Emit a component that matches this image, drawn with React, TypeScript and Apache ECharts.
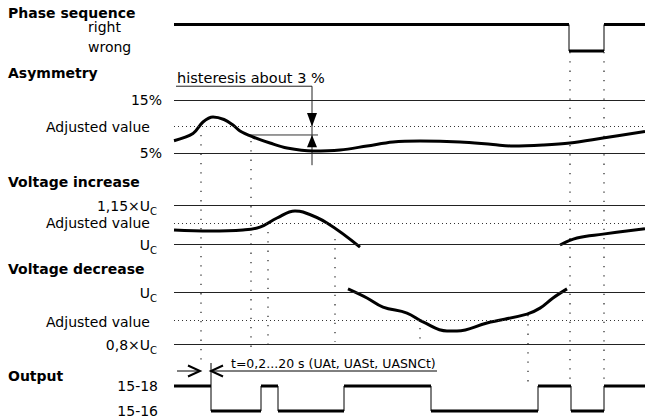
import React, { useEffect, useRef } from 'react';
import * as echarts from 'echarts';

// ---------- time axis (arbitrary time units) ----------
const T_MAX = 471;

// ---------- Phase sequence (1 = right, 0 = wrong) ----------
const phaseTimes = [0, 395, 430, 471];
const phaseLevels = [1, 0, 1, 1];
const phaseTicks = [0, 1];
const phaseTickLabels = ['wrong', 'right'];

// ---------- Asymmetry (%) ----------
const asymTimes = [0, 19, 29, 39, 50, 59, 66, 79, 96, 113, 139, 166, 193, 219, 246, 286, 319, 339, 369, 396, 429, 471];
const asymValues = [7.32, 8.68, 10.85, 11.79, 11.32, 10.28, 9.15, 8.02, 6.89, 5.94, 5.38, 5.57, 6.32, 7.08, 7.26, 7.08, 6.6, 6.32, 6.51, 6.89, 7.83, 9.06];
const asymTicks = [5, 10, 15];
const asymTickLabels = ['5%', 'Adjusted value', '15%'];
const asymAdjusted = 10;
const asymHysteresisLevel = 8.4;
const hystText = 'histeresis about 3 %';

// ---------- Voltage increase (× Uc) ----------
const vIncTimesA = [0, 36, 69, 86, 103, 121, 129, 153, 186];
const vIncValuesA = [1.054, 1.05, 1.054, 1.065, 1.1, 1.127, 1.123, 1.081, 0.988];
const vIncTimesB = [386, 403, 429, 471];
const vIncValuesB = [0.996, 1.023, 1.038, 1.059];
const vIncTicks = [1.0, 1.081, 1.15];
const vIncTickLabels = ['U_C', 'Adjusted value', '1,15×U_C'];

// ---------- Voltage decrease (× Uc) ----------
const vDecTimes = [174, 193, 209, 233, 249, 273, 283, 313, 353, 366, 379, 393];
const vDecValues = [1.012, 0.977, 0.942, 0.919, 0.885, 0.85, 0.85, 0.881, 0.915, 0.938, 0.977, 1.012];
const vDecTicks = [0.8, 0.885, 1.0];
const vDecTickLabels = ['0,8×U_C', 'Adjusted value', 'U_C'];

// ---------- Output (1 = 15-18, 0 = 15-16) ----------
const outTimes = [0, 37, 87, 104, 170, 257, 364, 397, 430, 471];
const outLevels = [1, 0, 1, 0, 1, 0, 1, 0, 1, 1];
const outTicks = [0, 1];
const outTickLabels = ['15-16', '15-18'];
const delayText = 't=0,2...20 s (UAt, UASt, UASNCt)';

// ---------- vertical dotted guides (overlay rows) ----------
const guideTimes = [27, 77, 94, 161, 246, 354, 396, 430];
const guideTop = [135, 141, 232, 239, 328, 315, 52, 52];
const guideBottom = [362, 348, 345, 342, 342, 382, 383, 383];

// ---------- panel titles ----------
const panelTitles = ['Phase sequence', 'Asymmetry', 'Voltage increase', 'Voltage decrease', 'Output'];
const panelTitleY = [12.5, 73, 182, 269, 376];

const FONT = 'DejaVu Sans';
const LEFT = 174;
const FS = 14;

const rich = {
  u: { fontSize: FS, fontFamily: FONT, color: '#000', verticalAlign: 'bottom', lineHeight: 16 },
  s: { fontSize: 10, fontFamily: FONT, color: '#000', verticalAlign: 'bottom', lineHeight: 16, padding: [0, 0, -3, 0] },
  adj12: { fontSize: FS, fontFamily: FONT, color: '#000', padding: [0, 12, 0, 0] },
  adj7: { fontSize: FS, fontFamily: FONT, color: '#000', padding: [0, 7, 0, 0] },
  n: { fontSize: FS, fontFamily: FONT, color: '#000' },
  right: { fontSize: FS, fontFamily: FONT, color: '#000', lineHeight: 12, padding: [5, 0, 0, 0] },
  wrong: { fontSize: FS, fontFamily: FONT, color: '#000', lineHeight: 12, padding: [0, 0, 8, 0] },
};

function fmtLabel(s: string, adjKey: string) {
  if (s === 'Adjusted value') return `{${adjKey}|${s}}`;
  if (s === 'right' || s === 'wrong') return `{${s}|${s}}`;
  if (s.includes('_')) {
    const [a, b] = s.split('_');
    return `{u|${a}}{s|${b}}`;
  }
  return `{n|${s}}`;
}

function makeY(gridIndex: number, min: number, max: number, ticks: number[], labels: string[], margin: number, align: string, adjKey: string) {
  return {
    type: 'value',
    gridIndex,
    min,
    max,
    axisLine: { show: false },
    axisTick: { show: false },
    splitLine: { show: false },
    axisLabel: {
      show: true,
      customValues: ticks,
      margin,
      align,
      hideOverlap: false,
      showMinLabel: true,
      showMaxLabel: true,
      fontFamily: FONT,
      fontSize: FS,
      color: '#000',
      rich,
      formatter: (v: number) => {
        const i = ticks.findIndex((t) => Math.abs(t - v) < 1e-6);
        return i < 0 ? '' : fmtLabel(labels[i], adjKey);
      },
    },
  };
}

function makeX(gridIndex: number) {
  return { type: 'value', gridIndex, min: 0, max: T_MAX, show: false };
}

const zip = (a: number[], b: number[]) => a.map((x, i) => [x, b[i]]);
const segs = (t: number[], l: number[]) => t.slice(0, -1).map((x, i) => [x, t[i + 1], l[i]]);

const refLine = { color: '#222', width: 1, type: 'solid' };
const dotLine = { color: '#333', width: 1, type: [1, 3] };

function markLines(solid: number[], dotted: number[]) {
  return {
    silent: true,
    symbol: ['none', 'none'],
    label: { show: false },
    data: [
      ...solid.map((v) => ({ yAxis: v, lineStyle: refLine })),
      ...dotted.map((v) => ({ yAxis: v, lineStyle: dotLine })),
    ],
  };
}

const curve = (xi: number, data: number[][], ml?: any, smooth = 0.4) => ({
  type: 'line',
  xAxisIndex: xi,
  yAxisIndex: xi,
  data,
  smooth,
  symbol: 'none',
  clip: false,
  lineStyle: { color: '#000', width: 3 },
  ...(ml ? { markLine: ml } : {}),
});

const levelSeries = (xi: number, times: number[], levels: number[]) => [
  {
    type: 'line',
    xAxisIndex: xi,
    yAxisIndex: xi,
    step: 'end',
    data: zip(times, levels),
    symbol: 'none',
    clip: false,
    lineStyle: { color: '#000', width: 1 },
  },
  {
    type: 'custom',
    xAxisIndex: xi,
    yAxisIndex: xi,
    data: segs(times, levels),
    encode: { x: [0, 1], y: 2 },
    clip: false,
    renderItem: (_p: any, api: any) => {
      const a = api.coord([api.value(0), api.value(2)]);
      const b = api.coord([api.value(1), api.value(2)]);
      return {
        type: 'line',
        shape: { x1: a[0], y1: a[1], x2: b[0], y2: b[1] },
        style: { stroke: '#000', lineWidth: 3 },
      };
    },
  },
];

// hysteresis bracket, in asymmetry units
const hystX = 138;
const hystTop = 17.6;
const hystBottom = 2.7;
const hystLineFrom = 76;
const hystLineTo = 144;
const arrowHalf = 5;
const downArrowBase = 12.55;
const upArrowBase = 6.1;

// output delay arrow, in output units
const delayY = 1.6;
const delayFrom = 3;
const delayTip = 26;
const delayTip2 = 37;
const delayLineTo = 263;
const headLen = 12;
const headHalf = 0.22;
const delayTickTop = 1.92;
const delayTextX = 57;
const delayTextY = 1.92;

const option: any = {
  animation: false,
  backgroundColor: '#fff',
  textStyle: { fontFamily: FONT },
  grid: [
    { left: LEFT, right: 0, top: 24.5, height: 26.5 },
    { left: LEFT, right: 0, top: 100, height: 53 },
    { left: LEFT, right: 0, top: 205, height: 39 },
    { left: LEFT, right: 0, top: 292, height: 52 },
    { left: LEFT, right: 0, top: 386, height: 25 },
    { left: LEFT, right: 0, top: 0, height: 419 },
  ],
  xAxis: [0, 1, 2, 3, 4, 5].map(makeX),
  yAxis: [
    makeY(0, 0, 1, phaseTicks, phaseTickLabels, 86, 'left', 'adj12'),
    makeY(1, 5, 15, asymTicks, asymTickLabels, 12, 'right', 'adj12'),
    makeY(2, 1.0, 1.15, vIncTicks, vIncTickLabels, 17, 'right', 'adj7'),
    makeY(3, 0.8, 1.0, vDecTicks, vDecTickLabels, 17, 'right', 'adj7'),
    makeY(4, 0, 1, outTicks, outTickLabels, 16, 'right', 'adj7'),
    { type: 'value', gridIndex: 5, min: 0, max: 419, inverse: true, show: false },
  ],
  graphic: panelTitles.map((t, i) => ({
    type: 'text',
    x: 8,
    y: panelTitleY[i],
    style: { text: t, fill: '#000', font: `bold ${FS}px "${FONT}"`, lineHeight: 12, verticalAlign: 'middle', align: 'left' },
  })),
  series: [
    ...levelSeries(0, phaseTimes, phaseLevels),
    curve(1, zip(asymTimes, asymValues), markLines([5, 15], [asymAdjusted]), 0.35),
    {
      type: 'custom',
      xAxisIndex: 1,
      yAxisIndex: 1,
      data: [[hystX, asymHysteresisLevel]],
      clip: false,
      renderItem: (_p: any, api: any) => {
        const c = (x: number, y: number) => api.coord([x, y]);
        return {
          type: 'group',
          children: [
            {
              type: 'polyline',
              shape: { points: [c(2, hystTop), c(hystX, hystTop), c(hystX, hystBottom)] },
              style: { stroke: '#222', lineWidth: 1, fill: null },
            },
            {
              type: 'line',
              shape: (() => { const a = c(hystLineFrom, asymHysteresisLevel); const b = c(hystLineTo, asymHysteresisLevel); return { x1: a[0], y1: a[1], x2: b[0], y2: b[1] }; })(),
              style: { stroke: '#333', lineWidth: 1 },
            },
            {
              type: 'polygon',
              shape: { points: [c(hystX - arrowHalf, downArrowBase), c(hystX + arrowHalf, downArrowBase), c(hystX, asymAdjusted)] },
              style: { fill: '#000' },
            },
            {
              type: 'polygon',
              shape: { points: [c(hystX - arrowHalf, upArrowBase), c(hystX + arrowHalf, upArrowBase), c(hystX, asymHysteresisLevel)] },
              style: { fill: '#000' },
            },
            {
              type: 'text',
              x: c(3, 19.15)[0],
              y: c(3, 19.15)[1],
              style: { text: hystText, fill: '#000', font: `14.5px "${FONT}"`, verticalAlign: 'middle', align: 'left' },
            },
          ],
        };
      },
    },
    curve(2, zip(vIncTimesA, vIncValuesA), markLines([1.0, 1.15], [vIncTicks[1]])),
    curve(2, zip(vIncTimesB, vIncValuesB)),
    curve(3, zip(vDecTimes, vDecValues), markLines([0.8, 1.0], [vDecTicks[1]])),
    ...levelSeries(4, outTimes, outLevels),
    {
      type: 'custom',
      xAxisIndex: 4,
      yAxisIndex: 4,
      data: [[delayTip2, delayY]],
      clip: false,
      renderItem: (_p: any, api: any) => {
        const c = (x: number, y: number) => api.coord([x, y]);
        const ln = (a: number[], b: number[], w = 1) => ({
          type: 'line',
          shape: { x1: a[0], y1: a[1], x2: b[0], y2: b[1] },
          style: { stroke: '#000', lineWidth: w },
        });
        return {
          type: 'group',
          children: [
            ln(c(delayFrom, delayY), c(delayTip, delayY)),
            {
              type: 'polyline',
              shape: { points: [c(delayTip - headLen, delayY + headHalf), c(delayTip, delayY), c(delayTip - headLen, delayY - headHalf)] },
              style: { stroke: '#000', lineWidth: 2, fill: null },
            },
            ln(c(delayTip2, delayY), c(delayLineTo, delayY)),
            {
              type: 'polyline',
              shape: { points: [c(delayTip2 + headLen, delayY + headHalf), c(delayTip2, delayY), c(delayTip2 + headLen, delayY - headHalf)] },
              style: { stroke: '#000', lineWidth: 2, fill: null },
            },
            ln(c(delayTip2, 1), c(delayTip2, delayTickTop)),
            {
              type: 'text',
              x: c(delayTextX, delayTextY)[0],
              y: c(delayTextX, delayTextY)[1],
              style: { text: delayText, fill: '#000', font: `12.5px "${FONT}"`, verticalAlign: 'middle', align: 'left' },
            },
          ],
        };
      },
    },
    {
      type: 'custom',
      xAxisIndex: 5,
      yAxisIndex: 5,
      data: guideTimes.map((t, i) => [t, guideTop[i], guideBottom[i]]),
      encode: { x: 0, y: [1, 2] },
      clip: false,
      renderItem: (_p: any, api: any) => {
        const a = api.coord([api.value(0), api.value(1)]);
        const b = api.coord([api.value(0), api.value(2)]);
        return {
          type: 'line',
          shape: { x1: a[0], y1: a[1], x2: b[0], y2: b[1] },
          style: { stroke: '#333', lineWidth: 1.3, lineDash: [1.3, 8] },
        };
      },
    },
  ],
};

export default function App() {
  const ref = useRef<HTMLDivElement>(null);
  useEffect(() => {
    const chart = echarts.init(ref.current!, null, { renderer: 'svg' });
    chart.setOption(option);
    return () => chart.dispose();
  }, []);
  return (
    <div
      ref={ref}
      style={{ position: 'fixed', left: 0, top: 0, width: 645, height: 419, background: '#fff' }}
    />
  );
}
